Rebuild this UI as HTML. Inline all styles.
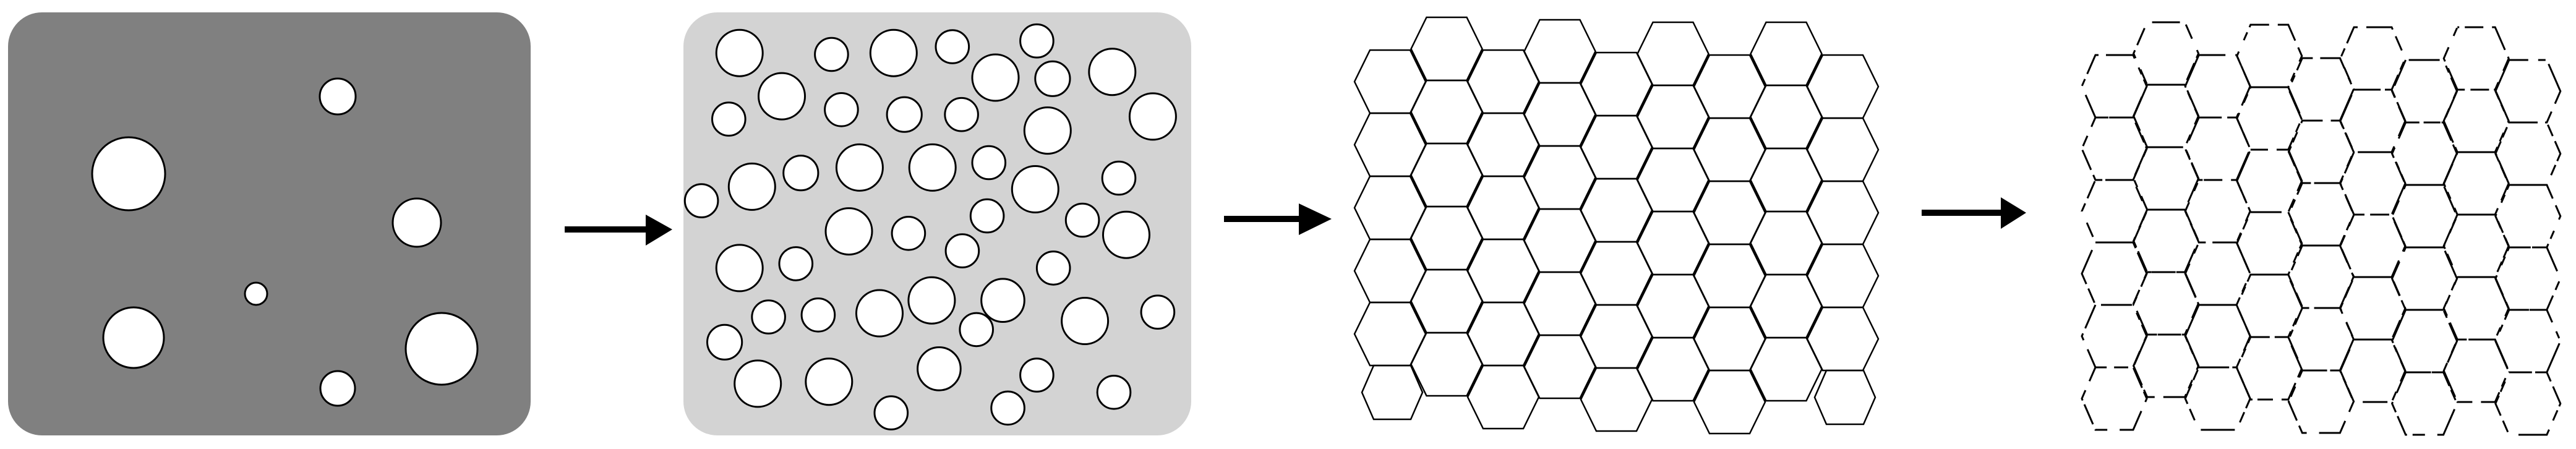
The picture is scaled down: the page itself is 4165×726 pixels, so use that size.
<!DOCTYPE html>
<html><head><meta charset="utf-8"><style>html,body{margin:0;padding:0;background:#fff;width:4165px;height:726px;overflow:hidden}</style></head>
<body>
<svg id="s" width="4165" height="726" xmlns="http://www.w3.org/2000/svg">
<rect x="13" y="20" width="845" height="684" rx="55" ry="55" fill="#808080"/>
<rect x="1105" y="20" width="821" height="684" rx="55" ry="55" fill="#d3d3d3"/>
<g id="c1" fill="#fff" stroke="#000" stroke-width="3"></g>
<g id="c2" fill="#fff" stroke="#000" stroke-width="3"></g>
<g fill="#000">
<rect x="913" y="366" width="133" height="10"/><polygon points="1044,347 1087,371 1044,397"/>
<rect x="1979" y="349" width="123" height="10"/><polygon points="2100,329 2153,354 2100,380"/>
<rect x="3107" y="339" width="130" height="10"/><polygon points="3235,319 3276,344 3235,370"/>
</g>
<g id="h3" fill="none" stroke="#000" stroke-width="2.5" stroke-linejoin="miter"></g>
<g id="h4" fill="none" stroke="#000" stroke-width="3"></g>
</svg>
<script>
var NS="http://www.w3.org/2000/svg";
function el(g,t,a){var e=document.createElementNS(NS,t);for(var k in a)e.setAttribute(k,a[k]);document.getElementById(g).appendChild(e);}
var c1=[[546,156,29],[208,281,59],[674,360,39],[414,475,18],[216,546,49],[714,564,58],[546,628,28]];
c1.forEach(function(c){el("c1","circle",{cx:c[0],cy:c[1],r:c[2]});});
var z=[[893,185,28],[1004,190,20],[1079,185,28],[1150,163,20],[1252,143,20],[1202,271,28],[1271,275,21],[1343,251,28],[944,336,28],[880,416,20],[1016,383,20],[1092,400,21],[1161,400,20],[1265,456,28],[1392,407,28],[908,652,28],[967,604,21],[1038,585,28],[1126,585,28],[1194,568,20],[847,701,20],[1250,661,28],[1351,622,20],[1025,808,28],[1097,815,20],[1192,754,20],[1307,769,20],[1360,820,28],[1162,876,20],[893,936,28],[961,921,20],[1272,936,20],[928,1107,20],[988,1100,20],[1062,1094,28],[1125,1049,28],[1211,1049,26],[1179,1151,20],[1310,1121,28],[1398,1090,20],[875,1195,21],[915,1340,28],[1001,1333,28],[1134,1288,26],[1252,1310,20],[1076,1442,20],[1217,1425,20],[1345,1370,20]];
z.forEach(function(c){el("c2","circle",{cx:(c[0]*1.339).toFixed(1),cy:(c[1]*0.463).toFixed(1),r:(c[2]*1.339).toFixed(1)});});
function hex(g,x0,y0,T,O,H,extra){var p=[[x0,y0],[x0+T,y0],[x0+T+O,y0+H/2],[x0+T,y0+H],[x0,y0+H],[x0-O,y0+H/2]];
var a={points:p.map(function(q){return q[0].toFixed(1)+","+q[1].toFixed(1)}).join(" ")};for(var k in extra)a[k]=extra[k];el(g,"polygon",a);}
var t3=[81,28,81,32,85,36,89,36,89];
for(var i=0;i<9;i++)for(var r=0;r<6;r++){
 if((i==0||i==8)&&r==5){hex("h3",2215+i*91.5+6,t3[i]+r*102,60,19,87,{});}
 else hex("h3",2215+i*91.5,t3[i]+r*102,65,25,102,{});}
var t4=[89,36,89,40,94,44,97,44,97];
var dashes=["40 14 25 8 60 18 15 10","22 12 50 16 12 9 70 14","55 20 20 9 35 7 18 16","14 9 30 14 45 12 25 20"];
var n=0;
for(var i=0;i<9;i++)for(var r=0;r<6;r++){n++;hex("h4",3388+i*83.6,t4[i]+r*101,61,22,101,{"stroke-dasharray":dashes[n%4],"stroke-dashoffset":(n*17)%60});}
</script>
</body></html>
